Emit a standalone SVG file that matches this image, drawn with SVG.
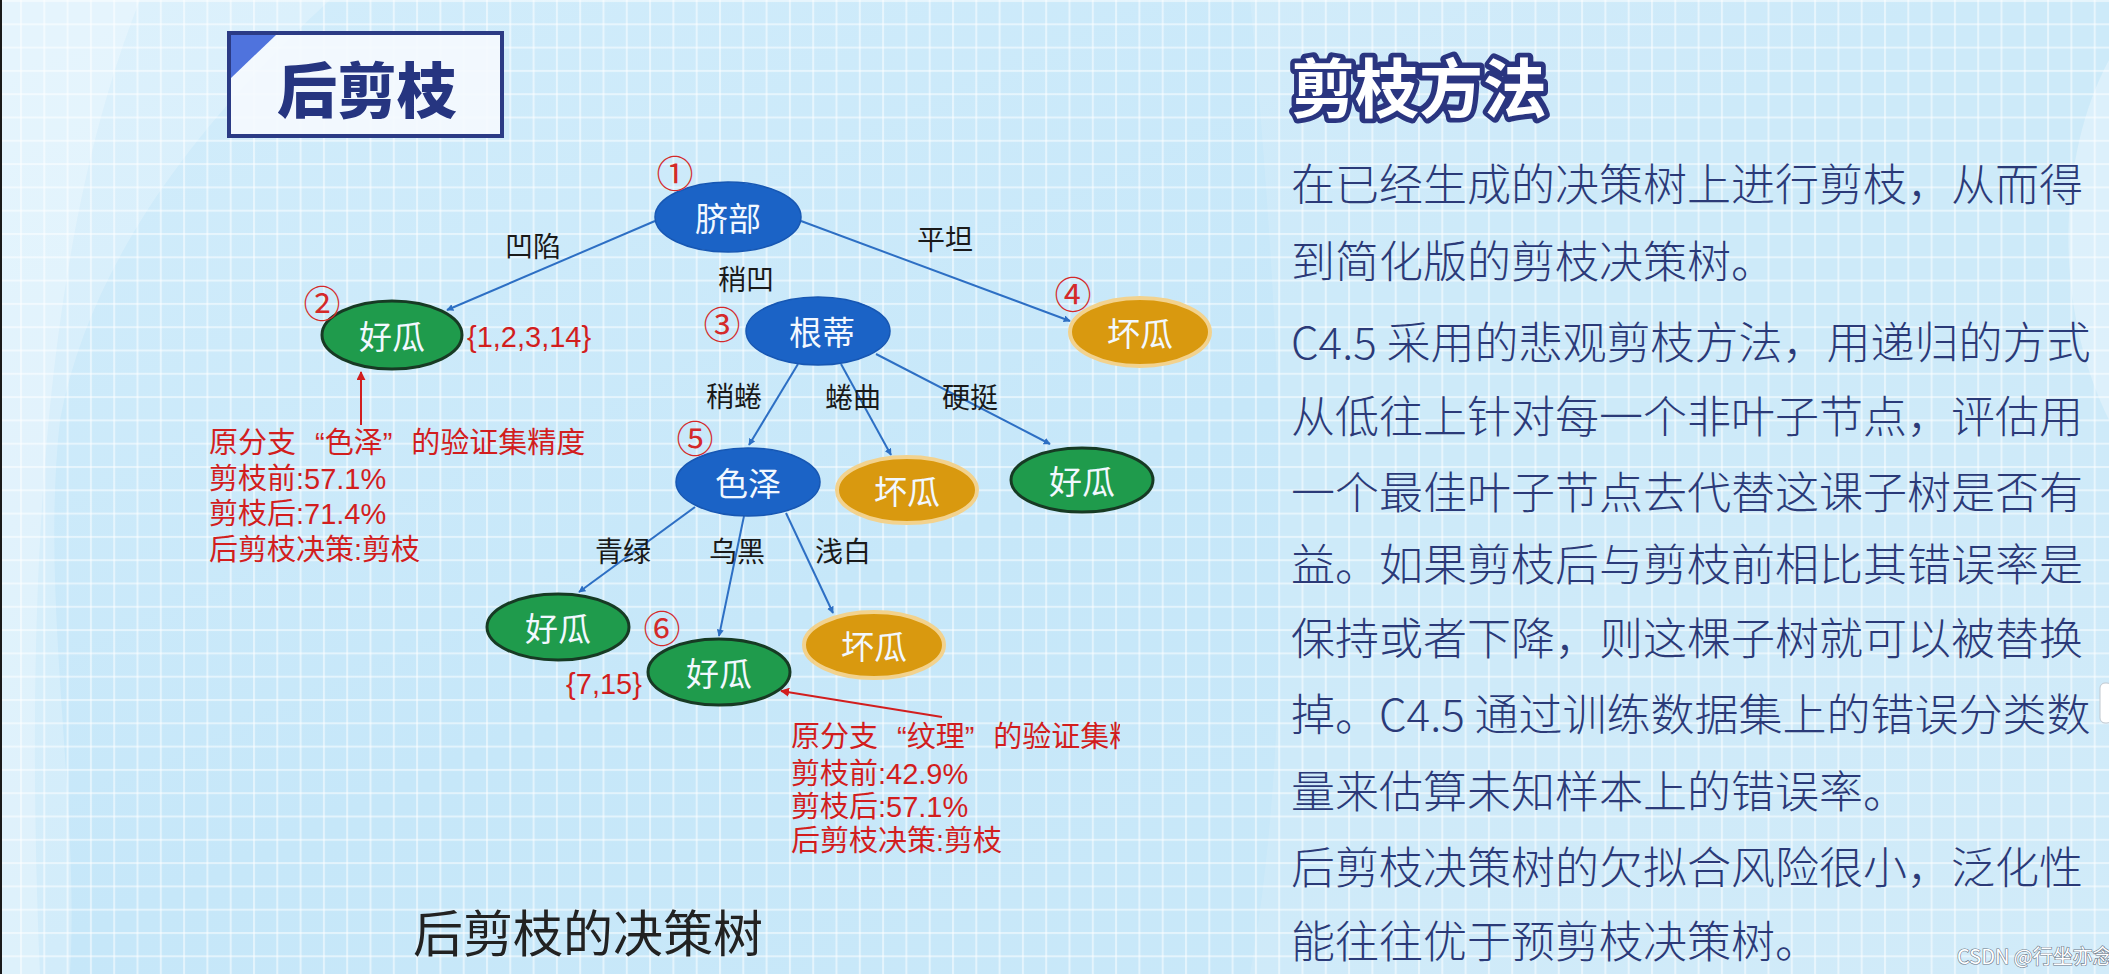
<svg xmlns="http://www.w3.org/2000/svg" width="2109" height="974" viewBox="0 0 2109 974">
<style>
.cjk{font-family:'Noto Sans CJK SC','Liberation Sans',sans-serif}
.ntext{font-family:'Noto Sans CJK SC',sans-serif;font-size:33px;fill:#f2f8ff;text-anchor:middle;dominant-baseline:central}
.elabel{font-family:'Liberation Sans','Noto Sans CJK SC',sans-serif;font-size:28px;fill:#1a1a1a;text-anchor:middle;dominant-baseline:central}
.num{font-family:'Noto Sans CJK SC',sans-serif;font-size:37px;fill:#d42a2a;text-anchor:middle;dominant-baseline:central}
.red{font-family:'Liberation Sans','Noto Sans CJK SC',sans-serif;font-size:29px;fill:#d21e1e}
.body{font-family:'Noto Sans CJK SC','Liberation Sans',sans-serif;font-size:44px;font-weight:300;fill:#2b3a78}
.blue{fill:#1b63c6;stroke:#1757b3;stroke-width:1.5}
.green{fill:#1f9b4c;stroke:#173a24;stroke-width:3}
.orange{fill:#d9990f;stroke:#f2d28e;stroke-width:4}
.edge{stroke:#2d6fc4;stroke-width:2;fill:none;marker-end:url(#ab)}
.redge{stroke:#d21e1e;stroke-width:2;fill:none;marker-end:url(#ar)}
</style>
<defs>
<linearGradient id="bg" x1="0" y1="0" x2="1" y2="1">
<stop offset="0" stop-color="#d3edfb"/>
<stop offset="0.5" stop-color="#c6e7f9"/>
<stop offset="1" stop-color="#cbe9f9"/>
</linearGradient>
<pattern id="grid" width="23.3" height="23.3" patternUnits="userSpaceOnUse" x="20" y="0">
<rect x="0" y="0" width="23.3" height="2" fill="#ffffff" fill-opacity="0.5"/>
<rect x="0" y="0" width="2" height="23.3" fill="#ffffff" fill-opacity="0.5"/>
</pattern>
<marker id="ab" viewBox="0 0 10 10" refX="9" refY="5" markerWidth="7" markerHeight="7" orient="auto" markerUnits="userSpaceOnUse">
<path d="M0 0L10 5L0 10z" fill="#2d6fc4"/>
</marker>
<marker id="ar" viewBox="0 0 10 10" refX="9" refY="5" markerWidth="9" markerHeight="9" orient="auto" markerUnits="userSpaceOnUse">
<path d="M0 0L10 5L0 10z" fill="#d21e1e"/>
</marker>
<clipPath id="clipR"><rect x="700" y="700" width="420" height="60"/></clipPath>
</defs>

<g id="background">
<rect width="2109" height="974" fill="url(#bg)"/>
<path d="M0 0H330C200 120 90 260 60 420C40 600 80 800 70 974H0Z" fill="#ffffff" fill-opacity="0.22"/>
<path d="M0 0H140C60 200 20 500 40 974H0Z" fill="#ffffff" fill-opacity="0.25"/>
<path d="M1250 0H2109V974H1250C1300 700 1280 300 1250 0Z" fill="#ffffff" fill-opacity="0.12"/>
<path d="M2109 60C2060 150 2050 300 2109 420Z" fill="#ffffff" fill-opacity="0.3"/>
<rect width="2109" height="974" fill="url(#grid)"/>
<rect x="0" y="0" width="2" height="974" fill="#1a1a1a"/>
<rect x="2100" y="683" width="12" height="40" rx="5" fill="#ffffff" stroke="#c0c8d0"/>
</g>

<g id="title-box">
<rect x="229" y="33" width="273" height="103" fill="#f5fafe" fill-opacity="0.9" stroke="#2b3b85" stroke-width="4"/>
<polygon points="231,35 276,35 231,78" fill="#4f73dd"/>
<text x="367" y="86" class="cjk" font-size="60" font-weight="900" fill="#263580" text-anchor="middle" dominant-baseline="central">后剪枝</text>
</g>

<g id="connectors">
<line class="edge" x1="655" y1="221" x2="447" y2="310"/>
<line class="edge" x1="801" y1="221" x2="1070" y2="321"/>
<line class="edge" x1="798" y1="364" x2="749" y2="445"/>
<line class="edge" x1="841" y1="364" x2="891" y2="455"/>
<line class="edge" x1="876" y1="354" x2="1050" y2="444"/>
<line class="edge" x1="695" y1="507" x2="579" y2="592"/>
<line class="edge" x1="744" y1="516" x2="719" y2="636"/>
<line class="edge" x1="786" y1="513" x2="833" y2="613"/>
<line class="redge" x1="361" y1="425" x2="361" y2="372"/>
<line class="redge" x1="942" y1="717" x2="781" y2="691"/>
<text class="elabel" x="533" y="247">凹陷</text>
<text class="elabel" x="945" y="240">平坦</text>
<text class="elabel" x="746" y="280">稍凹</text>
<text class="elabel" x="734" y="397">稍蜷</text>
<text class="elabel" x="853" y="398">蜷曲</text>
<text class="elabel" x="970" y="398">硬挺</text>
<text class="elabel" x="623" y="552">青绿</text>
<text class="elabel" x="737" y="552">乌黑</text>
<text class="elabel" x="843" y="552">浅白</text>
</g>

<g id="node-qibu">
<ellipse class="blue" cx="728" cy="217" rx="73" ry="35"/>
<text class="ntext" x="728" y="217">脐部</text>
<text class="num" x="675" y="172">①</text>
</g>
<g id="node-good-1">
<ellipse class="green" cx="392" cy="335" rx="70" ry="34"/>
<text class="ntext" x="392" y="335">好瓜</text>
<text class="num" x="322" y="302">②</text>
<text class="red" x="467" y="337" font-size="33" dominant-baseline="central">{1,2,3,14}</text>
</g>
<g id="node-gendi">
<ellipse class="blue" cx="818" cy="331" rx="72" ry="34"/>
<text class="ntext" x="822" y="331">根蒂</text>
<text class="num" x="722" y="323">③</text>
</g>
<g id="node-bad-1">
<ellipse class="orange" cx="1140" cy="332" rx="70" ry="34"/>
<text class="ntext" x="1140" y="332">坏瓜</text>
<text class="num" x="1073" y="293">④</text>
</g>
<g id="node-seze">
<ellipse class="blue" cx="748" cy="482" rx="72" ry="34"/>
<text class="ntext" x="748" y="482">色泽</text>
<text class="num" x="695" y="437">⑤</text>
</g>
<g id="node-bad-2">
<ellipse class="orange" cx="907" cy="490" rx="70" ry="33"/>
<text class="ntext" x="907" y="490">坏瓜</text>
</g>
<g id="node-good-2">
<ellipse class="green" cx="1082" cy="480" rx="71" ry="32"/>
<text class="ntext" x="1082" y="480">好瓜</text>
</g>
<g id="node-good-3">
<ellipse class="green" cx="558" cy="627" rx="71" ry="33"/>
<text class="ntext" x="558" y="627">好瓜</text>
</g>
<g id="node-good-4">
<ellipse class="green" cx="719" cy="672" rx="71" ry="33"/>
<text class="ntext" x="719" y="672">好瓜</text>
<text class="num" x="662" y="627">⑥</text>
<text class="red" x="604" y="684" font-size="33" text-anchor="middle" dominant-baseline="central">{7,15}</text>
</g>
<g id="node-bad-3">
<ellipse class="orange" cx="874" cy="645" rx="70" ry="33"/>
<text class="ntext" x="874" y="645">坏瓜</text>
</g>

<g id="note-left">
<text class="red" x="209" y="453">原分支<tspan dx="19">“</tspan>色泽”<tspan dx="19">的验证集精度</tspan></text>
<text class="red" x="209" y="489">剪枝前:57.1%</text>
<text class="red" x="209" y="524">剪枝后:71.4%</text>
<text class="red" x="209" y="560">后剪枝决策:剪枝</text>
</g>
<g id="note-right">
<text class="red" x="791" y="747" clip-path="url(#clipR)">原分支<tspan dx="19">“</tspan>纹理”<tspan dx="19">的验证集精</tspan></text>
<text class="red" x="791" y="784">剪枝前:42.9%</text>
<text class="red" x="791" y="817">剪枝后:57.1%</text>
<text class="red" x="791" y="851">后剪枝决策:剪枝</text>
</g>

<g id="caption">
<text x="588" y="930" class="cjk" font-size="50" fill="#222222" text-anchor="middle" dominant-baseline="central">后剪枝的决策树</text>
</g>

<g id="method-panel">
<text x="1291" y="112" class="cjk" font-size="64" font-weight="900" fill="#2a3580" stroke="#2a3580" stroke-width="9" stroke-linejoin="round">剪枝方法</text>
<text x="1291" y="112" class="cjk" font-size="64" font-weight="700" fill="#ffffff">剪枝方法</text>
<text class="body" x="1291" y="201">在已经生成的决策树上进行剪枝，从而得</text>
<text class="body" x="1291" y="278">到简化版的剪枝决策树。</text>
<text class="body" x="1291" y="359">C4.5 采用的悲观剪枝方法，用递归的方式</text>
<text class="body" x="1291" y="433">从低往上针对每一个非叶子节点，评估用</text>
<text class="body" x="1291" y="509">一个最佳叶子节点去代替这课子树是否有</text>
<text class="body" x="1291" y="581">益。如果剪枝后与剪枝前相比其错误率是</text>
<text class="body" x="1291" y="655">保持或者下降，则这棵子树就可以被替换</text>
<text class="body" x="1291" y="731">掉。C4.5 通过训练数据集上的错误分类数</text>
<text class="body" x="1291" y="808">量来估算未知样本上的错误率。</text>
<text class="body" x="1291" y="884">后剪枝决策树的欠拟合风险很小，泛化性</text>
<text class="body" x="1291" y="958">能往往优于预剪枝决策树。</text>
</g>

<g id="watermark">
<text x="1957" y="964" class="cjk" font-size="20" fill="#ffffff" stroke="#6a7585" stroke-width="1.2" paint-order="stroke">CSDN @行坐亦念</text>
</g>
</svg>
